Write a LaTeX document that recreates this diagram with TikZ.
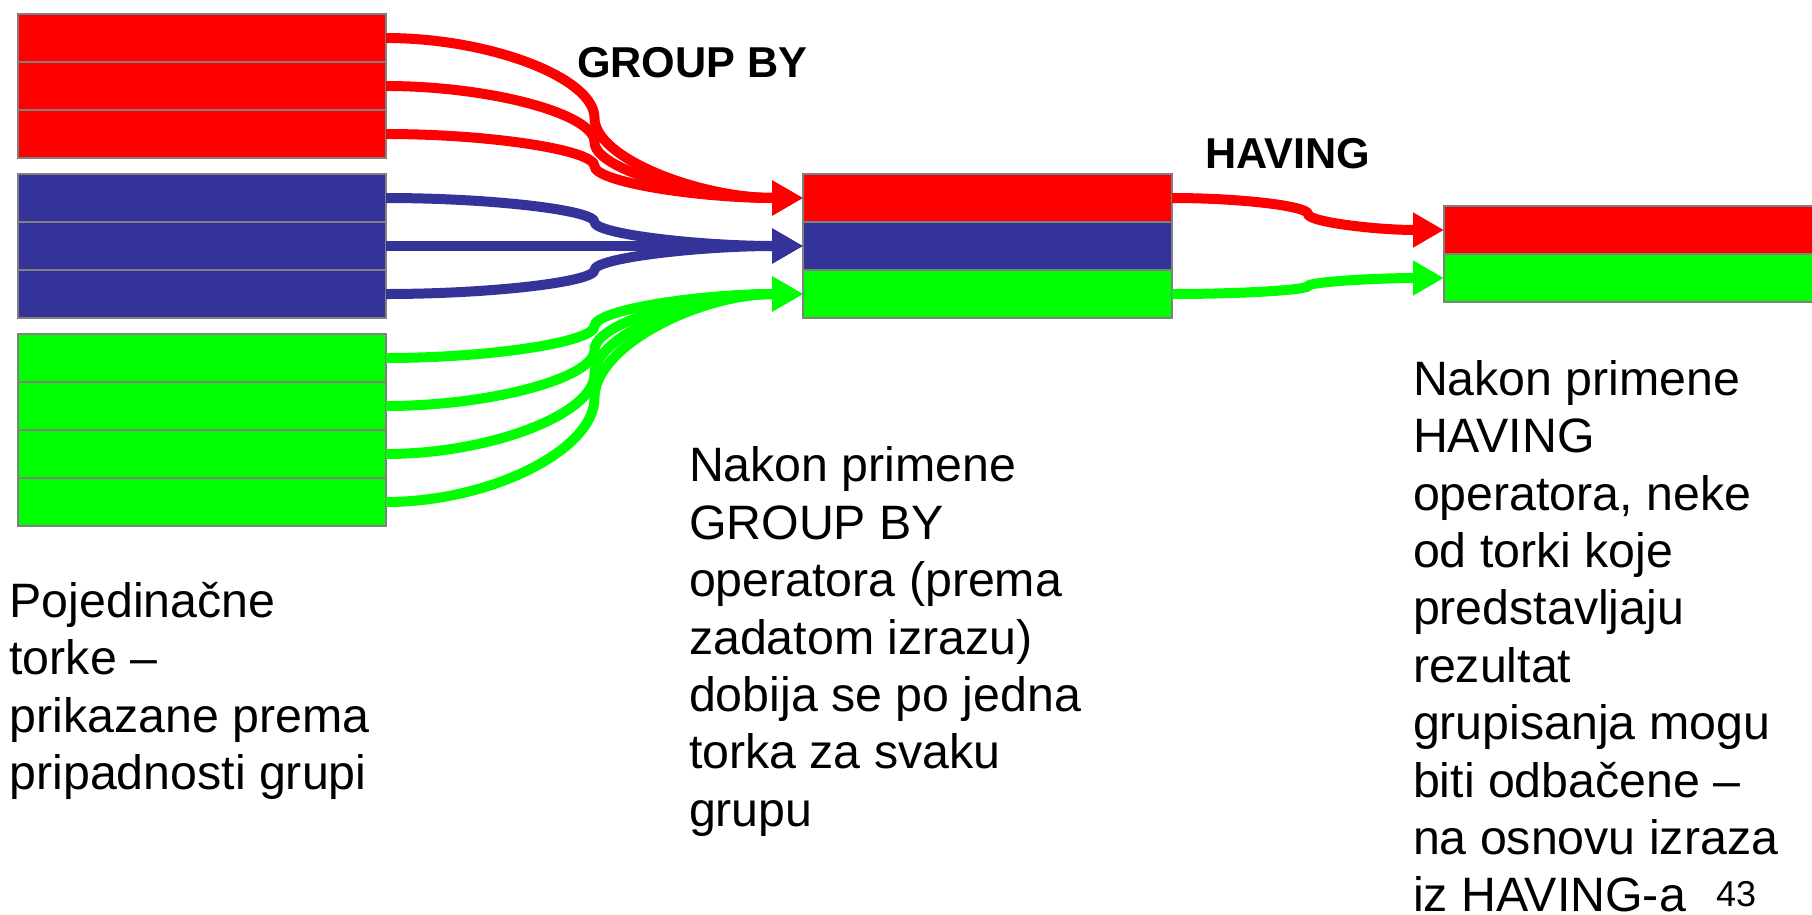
\documentclass[tikz,border=0pt]{standalone}
\usepackage{fontspec}
\setmainfont{Liberation Sans}
\usetikzlibrary{arrows.meta,calc}
\definecolor{pred}{HTML}{FF0000}
\definecolor{pblue}{HTML}{333399}
\definecolor{pgreen}{HTML}{00FF00}
\definecolor{pgray}{HTML}{808080}
\tikzset{
  row/.style={draw=pgray, line width=2.5pt, inner sep=0pt, outer sep=0pt,
    minimum width=368pt, minimum height=48pt},
  conn/.style={line width=10pt, -{Triangle[length=31pt,width=33pt]},
    to path={let \p1=(\tikztostart), \p2=(\tikztotarget) in
      .. controls ({0.75*\x1+0.25*\x2},{\y1}) and ({0.5*\x1+0.5*\x2},{0.75*\y1+0.25*\y2})
      .. ({0.5*\x1+0.5*\x2},{0.5*\y1+0.5*\y2})
      .. controls ({0.5*\x1+0.5*\x2},{0.25*\y1+0.75*\y2}) and ({0.25*\x1+0.75*\x2},{\y2})
      .. (\p2) \tikztonodes}},
  txt/.style={inner sep=0pt, outer sep=0pt, align=left, anchor=base west,
    font=\fontsize{48.3}{57.4}\selectfont},
  lbl/.style={inner sep=0pt, outer sep=0pt, anchor=base west,
    font=\fontsize{43.2}{50}\selectfont\bfseries}
}
\begin{document}
\begin{tikzpicture}[x=1pt,y=-1pt]
\useasboundingbox (0,0) rectangle (1812,914);
\clip (0,0) rectangle (1812,914);
% left groups
\node[row, fill=pred]   (r1) at (202,38)  {};
\node[row, fill=pred]   (r2) at (202,86)  {};
\node[row, fill=pred]   (r3) at (202,134) {};
\node[row, fill=pblue]  (b1) at (202,198) {};
\node[row, fill=pblue]  (b2) at (202,246) {};
\node[row, fill=pblue]  (b3) at (202,294) {};
\node[row, fill=pgreen] (g1) at (202,358) {};
\node[row, fill=pgreen] (g2) at (202,406) {};
\node[row, fill=pgreen] (g3) at (202,454) {};
\node[row, fill=pgreen] (g4) at (202,502) {};
% middle (after GROUP BY)
\node[row, fill=pred,   minimum width=369pt] (mr) at (987.5,198) {};
\node[row, fill=pblue,  minimum width=369pt] (mb) at (987.5,246) {};
\node[row, fill=pgreen, minimum width=369pt] (mg) at (987.5,294) {};
% right (after HAVING)
\node[row, fill=pred,   minimum width=370pt] (hr) at (1629,230) {};
\node[row, fill=pgreen, minimum width=370pt] (hg) at (1629,278) {};
% connectors
\draw[conn, pred] (r1.east) to (mr.west);
\draw[conn, pred] (r2.east) to (mr.west);
\draw[conn, pred] (r3.east) to (mr.west);
\draw[conn, pblue] (b1.east) to (mb.west);
\draw[conn, pblue] (b2.east) to (mb.west);
\draw[conn, pblue] (b3.east) to (mb.west);
\draw[conn, pgreen] (g1.east) to (mg.west);
\draw[conn, pgreen] (g2.east) to (mg.west);
\draw[conn, pgreen] (g3.east) to (mg.west);
\draw[conn, pgreen] (g4.east) to (mg.west);
\draw[conn, pred] (mr.east) to (hr.west);
\draw[conn, pgreen] (mg.east) to (hg.west);
% labels
\node[lbl] (lgb) at (577,77) {GROUP BY};
\node[lbl] (lhv) at (1205,168) {HAVING};
% texts (anchored at the baseline of their last line)
\node[txt] (t1) at (9.5,789.6) {Pojedinačne\\torke –\\prikazane prema\\pripadnosti grupi};
\node[txt] (t2) at (689,826.2) {Nakon primene\\GROUP BY\\operatora (prema\\zadatom izrazu)\\dobija se po jedna\\torka za svaku\\grupu};
\node[txt] (t3) at (1413,911.8) {Nakon primene\\HAVING\\operatora, neke\\od torki koje\\predstavljaju\\rezultat\\grupisanja mogu\\biti odbačene –\\na osnovu izraza\\iz HAVING-a};
\node[inner sep=0pt, anchor=base west, font=\fontsize{36}{40}\selectfont] (pg) at (1716,906) {43};
\end{tikzpicture}
\end{document}
